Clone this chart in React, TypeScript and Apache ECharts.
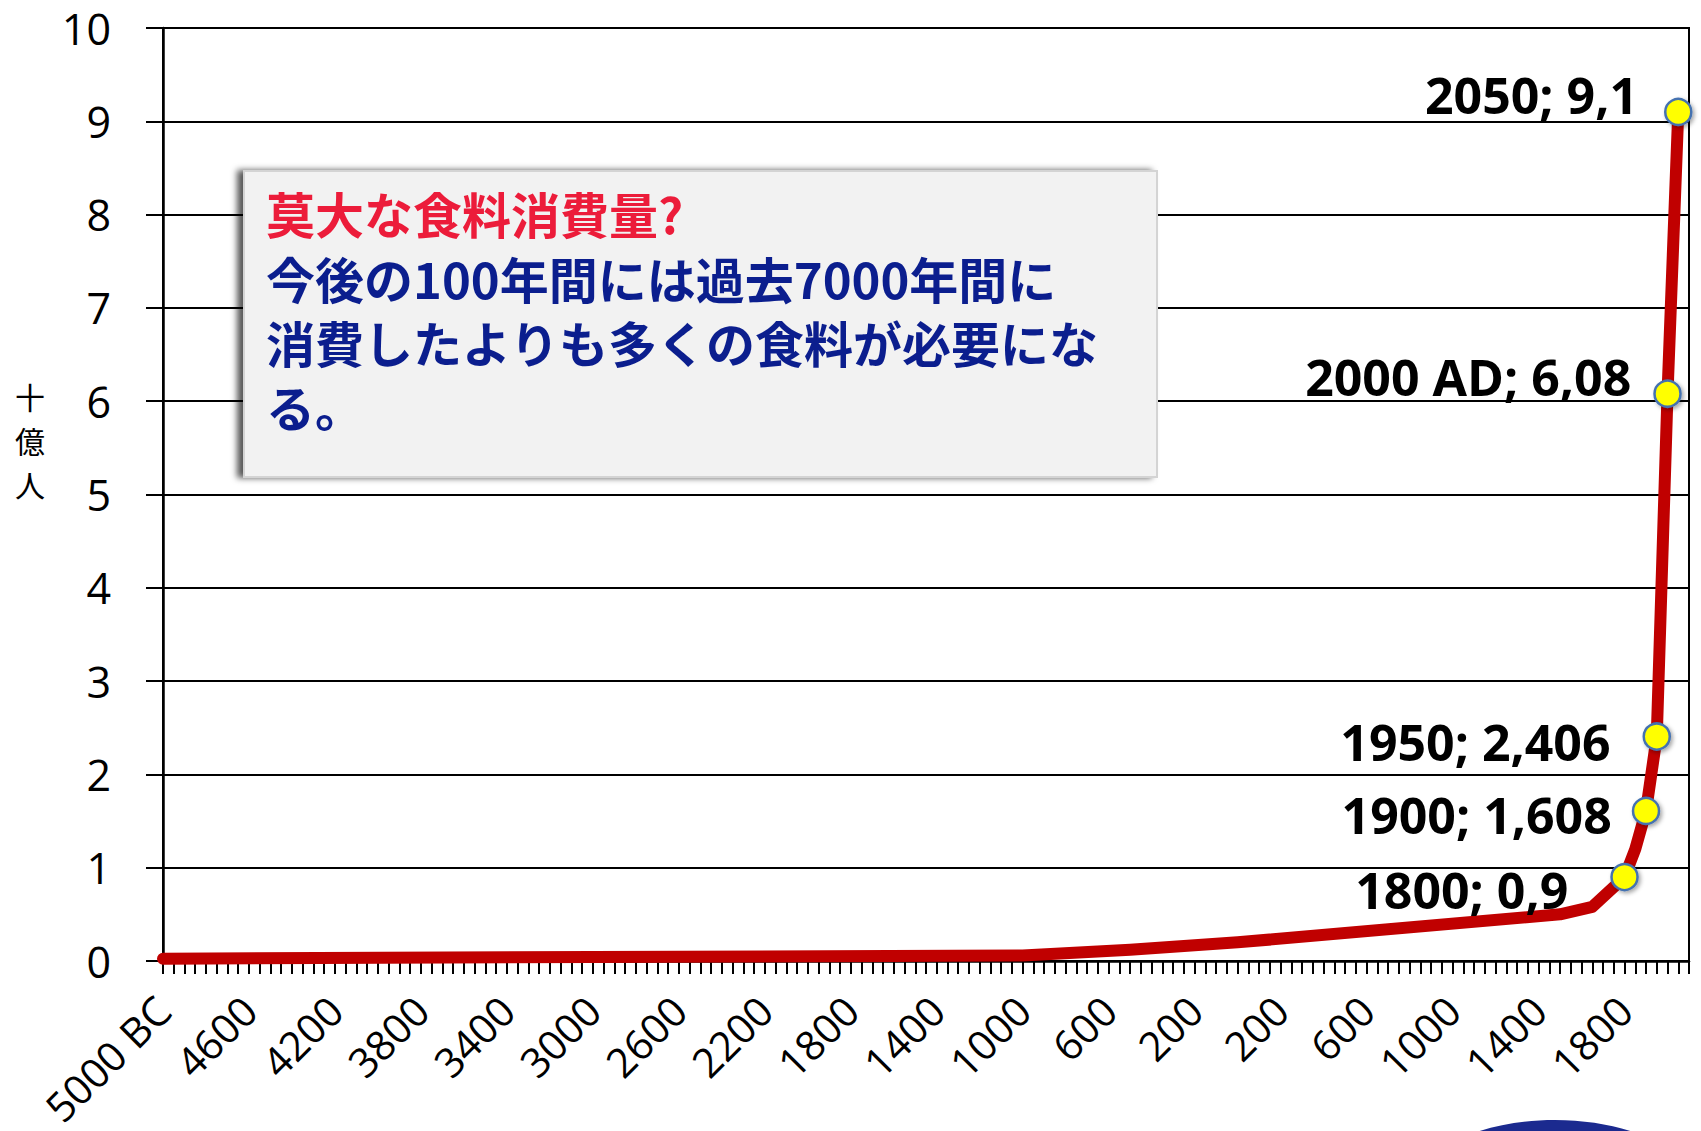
import React, { useEffect, useRef } from "react";
import * as echarts from "echarts";

// ---- data ----
// categories: every 50 years from 5000 BC (last slot 2100 left empty)
const startYear = -5000;
const endYear = 2100;
const stepYears = 50;
const years: number[] = [];
for (let y = startYear; y <= endYear; y += stepYears) years.push(y);

// tick labels shown every 8th category (400 years)
const xTickLabels = [
  "5000 BC", "4600", "4200", "3800", "3400", "3000", "2600", "2200", "1800",
  "1400", "1000", "600", "200", "200", "600", "1000", "1400", "1800",
];

// known points (billions) – other categories are connected by the line
const pointYears = [-5000, -1000, -500, 0, 1500, 1650, 1800, 1850, 1900, 1950, 2000, 2050];
const pointValues = [0.025, 0.06, 0.12, 0.2, 0.5, 0.58, 0.9, 1.2, 1.608, 2.406, 6.08, 9.1];

// labelled points
const labelYears = [1800, 1900, 1950, 2000, 2050];
const labelTexts = ["1800; 0,9", "1900; 1,608", "1950; 2,406", "2000 AD; 6,08", "2050; 9,1"];

const yTicks = [0, 10, 1]; // min, max, interval
const yAxisName = ["十", "億", "人"];

const boxTitle = "莫大な食料消費量?";
const boxLines = [
  "今後の100年間には過去7000年間に",
  "消費したよりも多くの食料が必要にな",
  "る。",
];

// label placement (style)
const labelStyle: Record<number, { distance: number; dy: number }> = {
  1800: { distance: 42, dy: 13 },
  1900: { distance: 20, dy: 4 },
  1950: { distance: 32, dy: 5 },
  2000: { distance: 22, dy: -17 },
  2050: { distance: 26, dy: -17 },
};

export default function App() {
  const ref = useRef<HTMLDivElement>(null);
  useEffect(() => {
    if (!ref.current) return;
    const chart = echarts.init(ref.current, null, { renderer: "svg" });

    const data = years.map((y) => {
      const k = pointYears.indexOf(y);
      if (k < 0) return null;
      const v = pointValues[k];
      const li = labelYears.indexOf(y);
      if (li < 0) return { value: v, symbol: "none" };
      const st = labelStyle[y];
      return {
        value: v,
        symbol: "circle",
        symbolSize: 26,
        label: {
          show: true,
          position: "left",
          distance: st.distance,
          offset: [0, st.dy],
          formatter: labelTexts[li],
          fontFamily: "'Open Sans', sans-serif",
          fontWeight: "bold",
          fontSize: 50,
          color: "#000",
        },
      };
    });

    const boxZ = 100;
    const option: any = {
      animation: false,
      backgroundColor: "#ffffff",
      grid: {
        left: 163,
        right: 12,
        top: 28,
        bottom: 170,
        show: true,
        borderColor: "#000",
        borderWidth: 2,
        containLabel: false,
        outerBoundsMode: "none",
      },
      xAxis: {
        type: "category",
        data: years.map(String),
        boundaryGap: false,
        axisLine: { show: true, lineStyle: { color: "#000", width: 2.5 } },
        axisTick: { show: true, interval: 0, length: 13, lineStyle: { color: "#000", width: 2 } },
        axisLabel: {
          interval: 7,
          rotate: 45,
          margin: 42,
          fontFamily: "'Open Sans', sans-serif",
          fontSize: 41,
          color: "#000",
          formatter: (_v: string, idx: number) => xTickLabels[Math.round(idx / 8)] ?? "",
        },
        splitLine: { show: false },
      },
      yAxis: {
        type: "value",
        min: yTicks[0],
        max: yTicks[1],
        interval: yTicks[2],
        axisLine: { show: true, lineStyle: { color: "#000", width: 2.5 } },
        axisTick: { show: true, length: 17, lineStyle: { color: "#000", width: 2 } },
        axisLabel: {
          margin: 52,
          fontFamily: "'Open Sans', sans-serif",
          fontSize: 43,
          color: "#000",
        },
        splitLine: { show: true, lineStyle: { color: "#000", width: 2 } },
      },
      series: [
        {
          type: "line",
          data,
          connectNulls: true,
          smooth: false,
          showAllSymbol: true,
          z: 3,
          lineStyle: { color: "#C00000", width: 12, join: "round", cap: "round" },
          itemStyle: {
            color: "#FFFF00",
            borderColor: "#4472B0",
            borderWidth: 2.5,
            shadowColor: "rgba(0,0,0,0.35)",
            shadowBlur: 4,
            shadowOffsetX: 2,
            shadowOffsetY: 2,
          },
        },
      ],
      graphic: [
        ...yAxisName.map((ch, i) => ({
          type: "text",
          x: 30,
          y: 396 + i * 44,
          z: 10,
          style: {
            text: ch,
            fontFamily: "'Noto Sans CJK JP', sans-serif",
            fontSize: 30,
            fill: "#000",
            align: "center",
            verticalAlign: "middle",
          },
        })),
        {
          type: "rect",
          z: boxZ,
          shape: { x: 244, y: 171, width: 913, height: 306 },
          style: {
            fill: "#F2F2F2",
            stroke: "#D4D4D4",
            lineWidth: 2,
            shadowColor: "rgba(0,0,0,0.65)",
            shadowBlur: 6,
            shadowOffsetX: -6,
            shadowOffsetY: 0,
          },
        },
        {
          type: "text",
          z: boxZ + 1,
          x: 266,
          y: 212,
          style: {
            text: boxTitle,
            fontFamily: "'Noto Sans CJK JP', sans-serif",
            fontWeight: "bold",
            fontSize: 49,
            fill: "#EC1C3A",
            verticalAlign: "middle",
          },
        },
        ...boxLines.map((t, i) => ({
          type: "text",
          z: boxZ + 1,
          x: 266,
          y: 277 + i * 64,
          style: {
            text: t,
            fontFamily: "'Noto Sans CJK JP', sans-serif",
            fontWeight: "bold",
            fontSize: 49,
            fill: "#0B1E8E",
            verticalAlign: "middle",
          },
        })),
        {
          type: "ellipse",
          z: 5,
          shape: { cx: 1555, cy: 1220, rx: 165, ry: 100 },
          style: { fill: "#1B2A8F" },
        },
      ],
    };
    chart.setOption(option);
    return () => chart.dispose();
  }, []);
  return (
    <div
      ref={ref}
      style={{ position: "fixed", left: 0, top: 0, width: 1701, height: 1131, background: "#fff" }}
    />
  );
}
